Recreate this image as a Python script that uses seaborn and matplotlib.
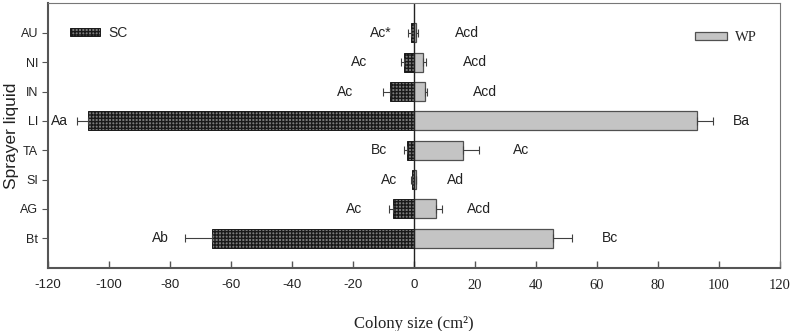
import numpy as np
import pandas as pd
import seaborn as sns
import matplotlib
matplotlib.use("Agg")
import matplotlib.pyplot as plt
from matplotlib.patches import Patch

categories = ["AU", "NI", "IN", "LI", "TA", "SI", "AG", "Bt"]
sc_values = [-1.0, -3.3, -7.9, -106.9, -2.3, -0.7, -6.9, -66.3]
sc_errors = [1.0, 1.0, 2.2, 3.6, 1.0, 0.3, 1.3, 8.7]
wp_values = [0.8, 3.0, 3.6, 92.7, 16.1, 0.5, 7.2, 45.6]
wp_errors = [0.5, 1.0, 0.6, 5.3, 5.2, 0.3, 1.9, 6.3]
sc_letters = ["Ac*", "Ac", "Ac", "Aa", "Bc", "Ac", "Ac", "Ab"]
wp_letters = ["Acd", "Acd", "Acd", "Ba", "Ac", "Ad", "Acd", "Bc"]
xticks = [-120, -100, -80, -60, -40, -20, 0, 20, 40, 60, 80, 100, 120]

# label gaps (points) from the end of each error bar
sc_gap = [11.5, 24, 21.5, 6.5, 12, 10, 19, 12]
wp_gap = [26.5, 26.5, 33, 14.5, 24.5, 22, 18, 21.5]

sns.set_style("white")
plt.rcParams["font.family"] = ["Liberation Sans", "DejaVu Sans"]
plt.rcParams["axes.unicode_minus"] = False
plt.rcParams["hatch.linewidth"] = 1.0
plt.rcParams["hatch.color"] = "#1a1a1a"

df = pd.DataFrame({
    "liquid": categories * 2,
    "size": sc_values + wp_values,
    "form": ["SC"] * len(categories) + ["WP"] * len(categories),
})

fig = plt.figure(figsize=(7.92, 3.31), dpi=100)
ax = fig.add_axes([0.0606, 0.190, 0.9242, 0.801])

sc_face = "#7c7c7c"
wp_face = "#c4c4c4"
sns.barplot(data=df, y="liquid", x="size", hue="form", orient="h",
            order=categories, hue_order=["SC", "WP"], dodge=False,
            palette={"SC": sc_face, "WP": wp_face}, errorbar=None,
            width=0.65, ax=ax, legend=False)

for p in ax.patches:
    if p.get_width() < 0 or p.get_x() < 0:
        p.set_hatch("+++++")
        p.set_edgecolor("#1a1a1a")
        p.set_linewidth(0.7)
    else:
        p.set_edgecolor("#505050")
        p.set_linewidth(0.9)

ypos = np.arange(len(categories))
ecol = "#404040"
ax.errorbar(sc_values, ypos, xerr=[sc_errors, [0] * len(categories)], fmt="none",
            ecolor=ecol, elinewidth=0.8, capsize=3, capthick=0.8)
ax.errorbar(wp_values, ypos, xerr=[[0] * len(categories), wp_errors], fmt="none",
            ecolor=ecol, elinewidth=0.8, capsize=3, capthick=0.8)

for i in range(len(categories)):
    ax.annotate(sc_letters[i], (sc_values[i] - sc_errors[i], ypos[i]),
                xytext=(-sc_gap[i], 0), textcoords="offset points",
                ha="right", va="center", fontsize=10, color="#222222")
    ax.annotate(wp_letters[i], (wp_values[i] + wp_errors[i], ypos[i]),
                xytext=(wp_gap[i], 0), textcoords="offset points",
                ha="left", va="center", fontsize=10, color="#222222")

ax.axvline(0, color="#222222", lw=1.0)
ax.set_xlim(-120, 120)
ax.set_ylim(8.02, -1.02)
ax.set_xticks(xticks)
ax.set_xticklabels([str(t) for t in xticks])
for lbl, t in zip(ax.get_xticklabels(), xticks):
    if t > 0:
        lbl.set_fontfamily(["Liberation Serif", "DejaVu Serif"])
        lbl.set_fontsize(10.5)
    else:
        lbl.set_fontsize(9.5)
ax.tick_params(axis="x", direction="in", length=5, width=1, color="#555555",
               pad=8, labelcolor="#222222")
ax.tick_params(axis="y", direction="out", length=4, width=0.8, color="#555555",
               labelsize=9, labelcolor="#222222", pad=3)
ax.tick_params(bottom=True, left=True)

for side in ["left", "bottom"]:
    ax.spines[side].set_linewidth(1.5)
    ax.spines[side].set_color("#555555")
for side in ["top", "right"]:
    ax.spines[side].set_linewidth(0.8)
    ax.spines[side].set_color("#777777")

ax.set_xlabel("Colony size (cm²)", fontsize=12,
              family=["Liberation Serif", "DejaVu Serif"], color="#222222", labelpad=17)
ax.set_ylabel("Sprayer liquid", fontsize=12.5, color="#222222")
ax.yaxis.set_label_coords(-0.040, 0.5)

h_sc = Patch(facecolor=sc_face, edgecolor="#1a1a1a", hatch="+++++", lw=0.7)
h_wp = Patch(facecolor=wp_face, edgecolor="#505050", lw=0.9)
leg1 = ax.legend([h_sc], ["SC"], loc="upper left", bbox_to_anchor=(0.030, 0.913),
                 frameon=False, handlelength=2.15, handleheight=0.5, fontsize=10,
                 borderpad=0, borderaxespad=0, handletextpad=0.6)
ax.add_artist(leg1)
leg2 = ax.legend([h_wp], ["WP"], loc="upper right", bbox_to_anchor=(0.969, 0.894),
                 frameon=False, handlelength=2.15, handleheight=0.5,
                 borderpad=0, borderaxespad=0, handletextpad=0.6,
                 prop={"family": ["Liberation Serif", "DejaVu Serif"], "size": 10.5})

fig.savefig("out.png", dpi=100)
